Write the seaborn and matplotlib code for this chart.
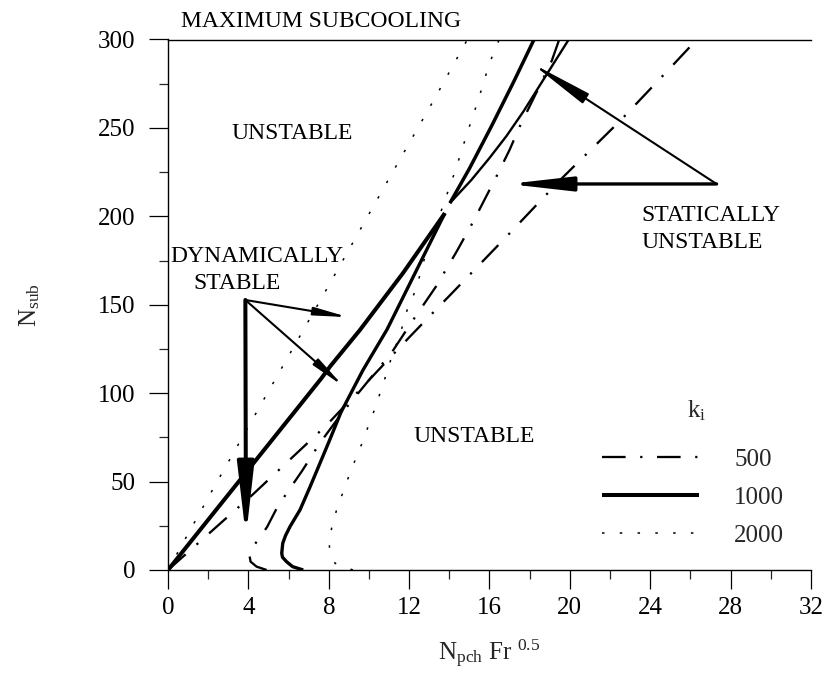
import matplotlib
matplotlib.use("Agg")
import matplotlib.pyplot as plt
from matplotlib.lines import Line2D
import numpy as np
import pandas as pd
import seaborn as sns

# ---- stability boundaries, k_i = 500 (dash-dot) ----
k500_left_x = [0.0, 4.2, 7.9, 12.04, 13.45, 14.0, 16.8, 19.6, 22.5, 25.0, 26.4]
k500_left_y = [0.0, 42.5, 82.0, 132.0, 148.6, 155.0, 188.0, 221.5, 254.0, 284.0, 301.0]
k500_right_x = [4.91, 4.41, 4.11, 4.05, 4.15, 4.44, 4.93, 5.47, 6.67, 7.56, 8.7,
                11.15, 12.2, 13.33, 14.36, 15.19, 16.3, 17.0, 17.5, 18.4, 19.1, 19.5]
k500_right_y = [0.0, 1.9, 4.7, 8.5, 12.0, 16.4, 24.3, 36.2, 56.0, 71.8, 89.4,
                123.3, 141.4, 160.2, 180.0, 197.0, 221.5, 237.6, 250.7, 271.5, 288.0, 301.0]

# ---- k_i = 1000 (solid) ----
k1000_lower_left_x = [0.0, 6.57, 7.64, 8.06, 9.55, 11.7, 13.78]
k1000_lower_left_y = [0.0, 93.3, 108.5, 115.0, 135.7, 168.0, 201.8]
k1000_lower_right_x = [6.73, 6.2, 5.9, 5.7, 5.66, 5.71, 5.85, 6.07, 6.57, 7.05, 7.56,
                       8.1, 8.6, 9.7, 10.9, 12.3, 13.78]
k1000_lower_right_y = [0.0, 1.9, 4.7, 7.2, 9.4, 15.1, 19.5, 24.5, 34.0, 46.5, 60.3,
                       75.0, 89.0, 113.0, 136.0, 168.0, 201.8]
k1000_upper_left_x = [14.03, 15.0, 16.1, 17.2, 18.26]
k1000_upper_left_y = [207.5, 227.0, 251.0, 276.0, 301.0]
k1000_upper_right_x = [14.03, 15.1, 16.0, 16.85, 17.7, 18.5, 19.25, 20.0]
k1000_upper_right_y = [207.5, 220.6, 233.0, 245.5, 259.5, 274.0, 287.5, 301.0]

# ---- k_i = 2000 (dotted) ----
k2000_left_x = [0.0, 2.26, 4.99, 7.73, 10.96, 13.23, 14.95]
k2000_left_y = [0.0, 46.2, 100.9, 155.5, 220.6, 265.8, 301.0]
k2000_right_x = [9.2, 8.31, 8.03, 8.14, 8.39, 8.69, 9.02, 9.35, 9.69, 10.02, 10.35, 10.63,
                 10.91, 11.13, 11.54, 11.9, 12.29, 12.54, 12.79, 13.73, 14.28, 14.86,
                 15.44, 16.0, 16.5]
k2000_right_y = [0.0, 3.8, 13.2, 23.6, 34.0, 43.4, 53.7, 63.2, 72.6, 83.0, 92.8, 102.8,
                 112.2, 120.6, 132.9, 147.0, 157.4, 166.9, 177.2, 207.4, 225.3, 246.0,
                 265.8, 286.6, 300.5]

legend_labels = ["500", "1000", "2000"]
x_ticks = [0, 4, 8, 12, 16, 20, 24, 28, 32]
y_ticks = [0, 50, 100, 150, 200, 250, 300]

# ---- styling ----
sns.set_style("ticks")
plt.rcParams["font.family"] = ["Liberation Serif", "DejaVu Serif"]
plt.rcParams["mathtext.fontset"] = "custom"
plt.rcParams["mathtext.rm"] = "Liberation Serif"
plt.rcParams["mathtext.it"] = "Liberation Serif:italic"
plt.rcParams["lines.scale_dashes"] = False
plt.rcParams["lines.solid_capstyle"] = "butt"

DASHDOT = (0, (17, 10.5, 1.6, 10.5))
DOTTED = (0, (1.8, 11))

segments = [
    ("500", "left", k500_left_x, k500_left_y, 1.65, DASHDOT),
    ("500", "right", k500_right_x, k500_right_y, 1.65, DASHDOT),
    ("1000", "lower_left", k1000_lower_left_x, k1000_lower_left_y, 2.9, "-"),
    ("1000", "lower_right", k1000_lower_right_x, k1000_lower_right_y, 2.4, "-"),
    ("1000", "upper_left", k1000_upper_left_x, k1000_upper_left_y, 2.5, "-"),
    ("1000", "upper_right", k1000_upper_right_x, k1000_upper_right_y, 1.7, "-"),
    ("2000", "left", k2000_left_x, k2000_left_y, 1.1, DOTTED),
    ("2000", "right", k2000_right_x, k2000_right_y, 1.1, DOTTED),
]

frames = []
for k, branch, xs, ys, _, _ in segments:
    frames.append(pd.DataFrame({"npch": xs, "nsub": ys, "k": k, "branch": branch}))
df = pd.concat(frames, ignore_index=True)

fig = plt.figure(figsize=(8.28, 6.77), dpi=100)
ax = fig.add_axes([168 / 828, 107 / 677, 643 / 828, 530.5 / 677])

for k, branch, _, _, lw, ls in segments:
    seg = df[(df["k"] == k) & (df["branch"] == branch)]
    sns.lineplot(data=seg, x="npch", y="nsub", sort=False, estimator=None,
                 color="black", lw=lw, linestyle=ls, ax=ax)

ax.set_xlim(0, 32)
ax.set_ylim(0, 300)
ax.set_xticks(x_ticks)
ax.set_yticks(y_ticks)
ax.set_xticks(np.arange(0, 33, 2), minor=True)
ax.set_yticks(np.arange(0, 301, 25), minor=True)
ax.set_xticklabels([str(v) for v in x_ticks])
ax.set_yticklabels([str(v) for v in y_ticks])
ax.tick_params(which="major", direction="out", length=13.5, width=0.9,
               labelsize=18, colors="black")
ax.tick_params(axis="x", which="major", pad=6)
ax.tick_params(axis="y", which="major", pad=10)
ax.tick_params(which="minor", direction="out", length=6.7, width=0.9)
ax.tick_params(top=False, right=False, which="both")

for side in ["left", "bottom", "top"]:
    ax.spines[side].set_visible(True)
    ax.spines[side].set_linewidth(1.0)
    ax.spines[side].set_color("black")
ax.spines["right"].set_visible(False)

ax.set_xlabel(r"N$_{\mathrm{pch}}$ Fr $^{\mathrm{0.5}}$", fontsize=18, labelpad=13)
ax.set_ylabel(r"N$_{\mathrm{sub}}$", fontsize=18, labelpad=40)

# ---- region labels ----
txt = dict(fontsize=17, color="black", va="baseline", ha="left")
ax.text(0.65, 307, "MAXIMUM SUBCOOLING", clip_on=False, **txt)
ax.text(3.17, 243.8, "UNSTABLE", **txt)
ax.text(12.2, 72.6, "UNSTABLE", **txt)
ax.text(0.1, 174, "DYNAMICALLY", **txt)
ax.text(1.26, 159, "STABLE", **txt)
ax.text(23.58, 197.6, "STATICALLY", **txt)
ax.text(23.58, 182, "UNSTABLE", **txt)


def arrow(start, tip, lw, hl, hw):
    ax.annotate("", xy=tip, xytext=start,
                arrowprops=dict(arrowstyle=f"-|>,head_length={hl},head_width={hw}",
                                mutation_scale=1, lw=lw, color="black",
                                shrinkA=0, shrinkB=0))


dyn_origin = (3.85, 152.7)
arrow(dyn_origin, (3.88, 18.8), 2.9, 43, 5)
arrow(dyn_origin, (8.97, 143.0), 1.5, 20, 2.4)
arrow(dyn_origin, (8.72, 104.0), 1.5, 20, 2.4)

stat_origin = (27.3, 218.3)
arrow(stat_origin, (16.93, 218.3), 2.4, 38, 4.3)
arrow(stat_origin, (18.09, 286.6), 1.5, 38, 3.5)

# ---- legend ----
handles = [
    Line2D([], [], color="black", lw=1.65, linestyle=DASHDOT),
    Line2D([], [], color="black", lw=2.9, linestyle="-"),
    Line2D([], [], color="black", lw=1.1, linestyle=DOTTED),
]
ax.legend(handles, legend_labels, frameon=False,
          fontsize=18, loc="center left",
          bbox_to_anchor=(0.6745, 0.137), borderpad=0, borderaxespad=0,
          handlelength=3.9, handletextpad=1.4, labelspacing=0.62)
ax.text(26.3, 86.5, r"k$_{\mathrm{i}}$", fontsize=18, ha="center", va="baseline")

fig.savefig("out.png", dpi=100, facecolor="white")
